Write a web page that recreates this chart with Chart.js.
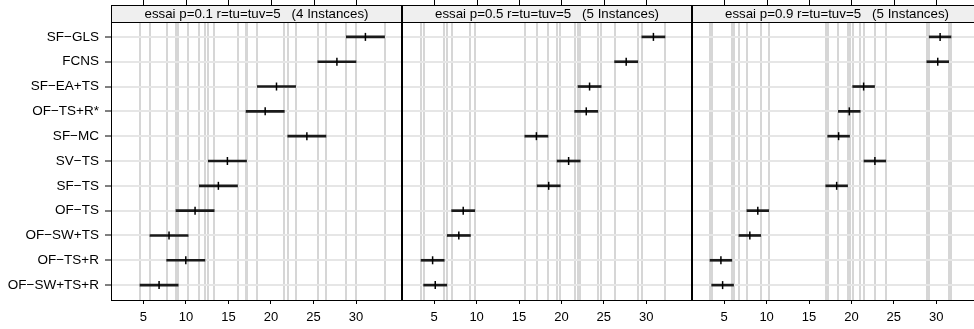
<!DOCTYPE html>
<html>
<head>
<meta charset="utf-8">
<script src="https://cdn.jsdelivr.net/npm/chart.js@4"></script>
<style>
  html, body { margin: 0; padding: 0; background: #fff; }
  #wrap { position: relative; width: 974px; height: 329px; overflow: hidden; }
  canvas { position: absolute; top: 0; }
</style>
</head>
<body>
<div id="wrap">
  <canvas id="p1" width="402" height="329" style="left:0px"></canvas>
  <canvas id="p2" width="290" height="329" style="left:402px"></canvas>
  <canvas id="p3" width="290" height="329" style="left:692px"></canvas>
</div>
<script>
const categories = ["SF−GLS", "FCNS", "SF−EA+TS", "OF−TS+R*", "SF−MC", "SV−TS", "SF−TS", "OF−TS", "OF−SW+TS", "OF−TS+R", "OF−SW+TS+R"];
const panelTitles = [
  "essai p=0.1 r=tu=tuv=5   (4 Instances)",
  "essai p=0.5 r=tu=tuv=5   (5 Instances)",
  "essai p=0.9 r=tu=tuv=5   (5 Instances)"
];
const xTicks = [5, 10, 15, 20, 25, 30];

// mean rank per method, one array per panel, same order as categories
const centersP1 = [31.1, 27.75, 20.65, 19.32, 24.22, 14.88, 13.82, 11.08, 8.02, 9.99, 6.85];
const centersP2 = [30.85, 27.64, 23.32, 22.93, 17.05, 20.85, 18.5, 8.42, 7.9, 4.81, 5.12];
const centersP3 = [30.46, 30.18, 21.44, 19.75, 18.49, 22.77, 18.26, 8.96, 8.02, 4.61, 4.81];
// half width of the intervals in each panel
const halfWidths = [2.25, 1.37, 1.29];

Chart.defaults.font.family = "'Liberation Sans', Arial, sans-serif";
Chart.defaults.font.size = 13;
Chart.defaults.color = "#000";

const panelDeco = {
  id: "panelDeco",
  afterDraw(chart, args, opts) {
    const ctx = chart.ctx;
    const a = chart.chartArea;
    const xs = chart.scales.x;
    ctx.save();
    // ticks on top
    ctx.strokeStyle = "#000";
    ctx.lineWidth = 1;
    xTicks.forEach((t) => {
      const px = Math.round(xs.getPixelForValue(t)) + 0.5;
      ctx.beginPath();
      ctx.moveTo(px, 0);
      ctx.lineTo(px, 5);
      ctx.stroke();
    });
    // strip
    const right = Math.min(a.right, opts.stripRight || a.right);
    ctx.fillStyle = "#efefef";
    ctx.fillRect(a.left, 5, right - a.left, a.top - 5);
    ctx.strokeStyle = "#000";
    ctx.strokeRect(a.left + 0.5, 5.5, right - a.left - 1, a.top - 5);
    ctx.fillStyle = "#000";
    ctx.font = "13.3px 'Liberation Sans', Arial, sans-serif";
    ctx.textAlign = "center";
    ctx.textBaseline = "middle";
    ctx.fillText(opts.title, (a.left + a.right) / 2, 14);
    // panel box
    ctx.strokeRect(a.left + 0.5, a.top + 0.5, a.right - a.left - 1, a.bottom - a.top);
    ctx.restore();
  }
};

function makePanel(id, centers, hw, title, first, stripRight) {
  const bars = centers.map((c, i) => ({ x: [c - hw, c + hw], y: i + 1 }));
  const pts = centers.map((c, i) => ({ x: c, y: i + 1 }));
  const ends = [];
  centers.forEach((c) => { ends.push(c - hw, c + hw); });

  new Chart(document.getElementById(id), {
    type: "scatter",
    data: {
      datasets: [
        {
          type: "scatter",
          data: pts,
          xAxisID: "x",
          yAxisID: "y",
          pointStyle: "line",
          rotation: 90,
          radius: 4,
          borderWidth: 1.5,
          borderColor: "#000",
          order: 0
        },
        {
          type: "bar",
          indexAxis: "y",
          data: bars,
          xAxisID: "x",
          yAxisID: "y",
          barThickness: 2,
          backgroundColor: "#1a1a1a",
          borderWidth: 0,
          order: 1
        }
      ]
    },
    options: {
      responsive: false,
      animation: false,
      layout: { autoPadding: false, padding: { top: 22, left: 0, right: 0, bottom: 0 } },
      plugins: {
        legend: { display: false },
        tooltip: { enabled: false },
        panelDeco: { title: title, stripRight: stripRight }
      },
      scales: {
        x: {
          type: "linear",
          position: "bottom",
          min: 1.2,
          max: 35.4,
          offset: false,
          afterBuildTicks: (s) => { s.ticks = xTicks.map((v) => ({ value: v })); },
          afterFit: (s) => { s.height = 29; },
          grid: { drawOnChartArea: false, drawTicks: true, tickLength: 4, tickColor: "#000", offset: false },
          border: { display: false },
          ticks: { padding: 6, autoSkip: false, maxRotation: 0, color: "#000" }
        },
        x2: {
          type: "linear",
          position: "bottom",
          min: 1.2,
          max: 35.4,
          offset: false,
          afterBuildTicks: (s) => { s.ticks = ends.map((v) => ({ value: v })); },
          afterFit: (s) => { s.height = 0; },
          grid: { color: "#d6d6d6", lineWidth: 2, drawTicks: false, offset: false },
          border: { display: false },
          ticks: { display: false, autoSkip: false }
        },
        y: {
          type: "linear",
          reverse: true,
          min: 0.4,
          max: 11.6,
          offset: false,
          afterBuildTicks: (s) => { s.ticks = categories.map((c, i) => ({ value: i + 1 })); },
          afterFit: (s) => { s.width = first ? 111 : 0; },
          grid: {
            color: "#e6e6e6",
            lineWidth: 2,
            drawTicks: first,
            tickLength: 6,
            tickColor: "#000",
            tickWidth: 1,
            offset: false
          },
          border: { display: false },
          ticks: {
            display: first,
            autoSkip: false,
            padding: 6,
            color: "#000",
            font: { size: 13.5 },
            callback: (v) => categories[v - 1]
          }
        }
      }
    },
    plugins: [panelDeco]
  });
}

makePanel("p1", centersP1, halfWidths[0], panelTitles[0], true, null);
makePanel("p2", centersP2, halfWidths[1], panelTitles[1], false, null);
makePanel("p3", centersP3, halfWidths[2], panelTitles[2], false, 950);
</script>
</body>
</html>
